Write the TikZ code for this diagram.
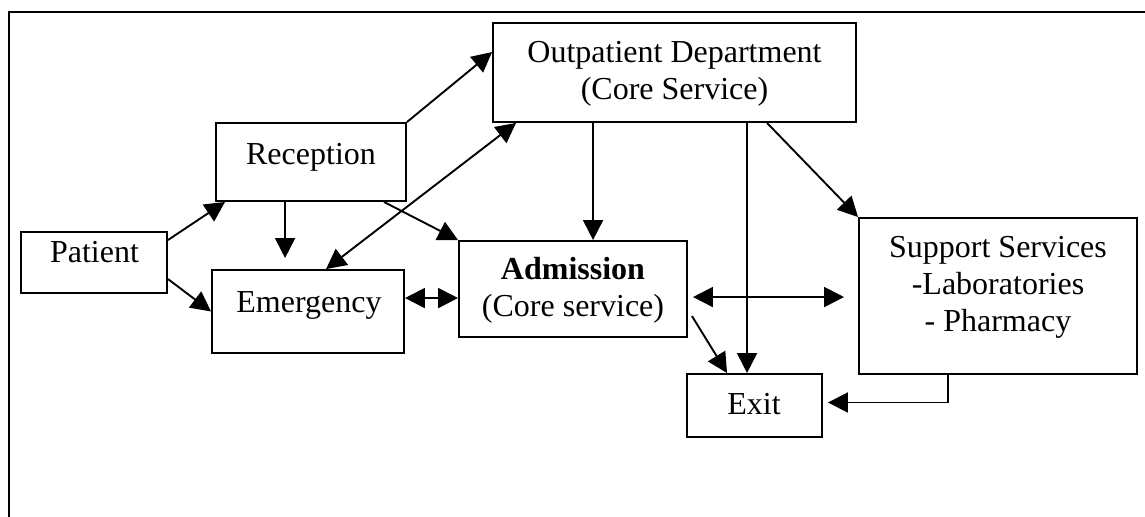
\documentclass[tikz,border=0pt]{standalone}
\usepackage{fontspec}
\setmainfont{Liberation Serif}
\usetikzlibrary{arrows.meta,calc}
\begin{document}
\begin{tikzpicture}[x=0.5pt,y=-0.5pt,
  box/.style={draw, line width=0.95pt, inner sep=0pt, rectangle},
  txt/.style={inner sep=0pt, anchor=base, align=center, font=\fontsize{16}{18.5}\selectfont},
  arr/.style={line width=0.95pt, -{Triangle[length=10pt,width=10pt]}},
  darr/.style={line width=0.95pt, {Triangle[length=10pt,width=10pt]}-{Triangle[length=10pt,width=10pt]}},
  frame/.style={line width=1.1pt}]
\useasboundingbox (0,0) rectangle (1145,517);
% frame
\coordinate (fl) at (9,517);
\coordinate (fc) at (9,12);
\coordinate (fr) at (1145,12);
\draw[frame] (fl) -- (fc) -- (fr);
% boxes
\node[box, minimum width=73pt, minimum height=30.5pt] (pat) at (94,262.5) {};
\node[box, minimum width=95pt, minimum height=39pt] (rec) at (311,162) {};
\node[box, minimum width=96pt, minimum height=41.5pt] (emg) at (308,311.5) {};
\node[box, minimum width=114pt, minimum height=48pt] (adm) at (573,289) {};
\node[box, minimum width=181.5pt, minimum height=49.5pt] (opd) at (674.5,72.5) {};
\node[box, minimum width=139pt, minimum height=78pt] (sup) at (998,296) {};
\node[box, minimum width=67.5pt, minimum height=31.5pt] (ext) at (754.5,405.5) {};
% texts (base = baseline of last line)
\node[txt] (patT) at (94.5,263) {Patient};
\node[txt] (recT) at (311,165) {Reception};
\node[txt] (emgT) at (309,313) {Emergency};
\node[txt] (opdT) at (674.5,100) {Outpatient Department\\(Core Service)};
\node[txt] (admT) at (573,317) {\textbf{Admission}\\(Core service)};
\node[txt] (supT) at (998,332) {Support Services\\-Laboratories\\- Pharmacy};
\node[txt] (extT) at (754,415) {Exit};
% connectors
\draw[arr] ($(pat.north east)+(0,9)$) -- ($(rec.south west)+(10,0)$);
\draw[arr] ($(pat.north east)+(0,48)$) -- (emg.west);
\draw[arr] ($(rec.south west)+(70,0)$) -- ($(emg.north west)+(74,-11)$);
\draw[arr] ($(rec.south east)+(-23,0)$) -- (adm.north west);
\draw[arr] (rec.north east) -- ($(opd.north west)+(0,30)$);
\draw[darr] ($(opd.south west)+(24,0)$) -- ($(emg.north west)+(115,0)$);
\draw[darr] ($(emg.north east)+(0,29)$) -- ($(adm.north west)+(0,58)$);
\draw[arr] ($(opd.south west)+(101,0)$) -- ($(adm.north west)+(135,0)$);
\draw[arr] ($(opd.south west)+(255,0)$) -- ($(ext.north west)+(61,0)$);
\draw[arr] ($(opd.south west)+(275,0)$) -- (sup.north west);
\draw[darr] ($(adm.north east)+(5,57)$) -- ($(sup.north west)+(-14,80)$);
\draw[arr] ($(adm.north east)+(4,76)$) -- ($(ext.north west)+(41,0)$);
\draw[arr, shorten >=2.5pt] ($(sup.south west)+(90,0)$) |- ($(ext.east)+(0,-3)$);
\end{tikzpicture}
\end{document}
